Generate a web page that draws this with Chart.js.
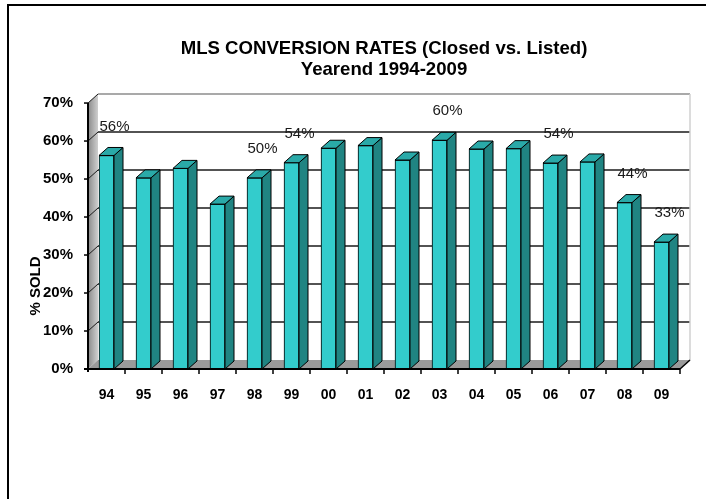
<!DOCTYPE html>
<html>
<head>
<meta charset="utf-8">
<title>MLS Conversion Rates</title>
<script src="https://cdn.jsdelivr.net/npm/chart.js@4.4.1/dist/chart.umd.min.js"></script>
<style>
  html, body { margin: 0; padding: 0; background: #fff; }
  #wrap { position: relative; width: 706px; height: 499px; overflow: hidden; }
  #frame { position: absolute; left: 7px; top: 4px; right: -4px; bottom: -4px;
           border-top: 2px solid #000; border-left: 2px solid #000; }
  #chart { position: absolute; left: 0; top: 0; }
</style>
</head>
<body>
<div id="wrap">
  <div id="frame"></div>
  <canvas id="chart" width="706" height="499"></canvas>
</div>
<script>
// Data
const years = ['94', '95', '96', '97', '98', '99', '00', '01', '02', '03', '04', '05', '06', '07', '08', '09'];
const soldRates = [56.2, 50.3, 52.8, 43.4, 50.3, 54.3, 58.1, 58.8, 55.0, 60.2, 57.9, 58.0, 54.2, 54.5, 43.8, 33.4];
const labelledYears = ['94', '98', '99', '03', '06', '08', '09'];
const yTicks = [0, 10, 20, 30, 40, 50, 60, 70];

const FONT = "'Liberation Sans', Arial, Helvetica, sans-serif";

// 3D look: depth of the walls and of each bar
const wall = { dx: 10, dy: -9 };
const block = { dx: 9, dy: -8 };

function poly(ctx, pts, fill, stroke) {
    ctx.beginPath();
    pts.forEach(([px, py], i) => i ? ctx.lineTo(px, py) : ctx.moveTo(px, py));
    ctx.closePath();
    if (fill) { ctx.fillStyle = fill; ctx.fill(); }
    if (stroke) { ctx.strokeStyle = stroke; ctx.lineWidth = 1; ctx.stroke(); }
}

function line(ctx, x1, y1, x2, y2, color, w) {
    ctx.beginPath();
    ctx.moveTo(x1, y1);
    ctx.lineTo(x2, y2);
    ctx.strokeStyle = color;
    ctx.lineWidth = w;
    ctx.stroke();
}

// Walls, floor and gridlines behind the bars
const room3d = {
    id: 'room3d',
    beforeDatasetsDraw(chart) {
        const { ctx, chartArea: a, scales: { y } } = chart;
        const L = a.left, R = a.right, T = a.top, B = a.bottom;
        ctx.save();

        // back wall
        ctx.fillStyle = '#fff';
        ctx.fillRect(L + wall.dx, T + wall.dy, R - L, B - T);

        // left side wall
        const g = ctx.createLinearGradient(L, 0, L + wall.dx, 0);
        g.addColorStop(0, '#8a8a8a');
        g.addColorStop(1, '#cfcfcf');
        poly(ctx, [[L, B], [L, T], [L + wall.dx, T + wall.dy], [L + wall.dx, B + wall.dy]], g);

        // floor
        poly(ctx, [[L, B], [R, B], [R + wall.dx, B + wall.dy], [L + wall.dx, B + wall.dy]], '#9a9a9a');

        // gridlines on the back wall and the side wall
        yTicks.forEach(v => {
            if (v === 0) return;
            const py = y.getPixelForValue(v);
            const color = v === yTicks[yTicks.length - 1] ? '#8c8c8c' : '#1a1a1a';
            line(ctx, L + wall.dx, py + wall.dy, R + wall.dx, py + wall.dy, color, 1.5);
            line(ctx, L, py, L + wall.dx, py + wall.dy, '#1a1a1a', 1);
        });

        // right edge of the back wall
        line(ctx, R + wall.dx, T + wall.dy, R + wall.dx, B + wall.dy, '#d0d0d0', 1.5);
        ctx.restore();
    },

    afterDatasetsDraw(chart) {
        const { ctx, chartArea: a, scales: { y } } = chart;
        const L = a.left, R = a.right, T = a.top, B = a.bottom;
        const meta = chart.getDatasetMeta(0);
        ctx.save();

        // side and top faces of the bars
        meta.data.forEach(bar => {
            const { x: cx, y: top, base, width } = bar.getProps(['x', 'y', 'base', 'width'], true);
            const l = cx - width / 2, r = cx + width / 2;
            poly(ctx, [[r, top], [r + block.dx, top + block.dy], [r + block.dx, base + block.dy], [r, base]], '#208482', '#000');
            poly(ctx, [[l, top], [l + block.dx, top + block.dy], [r + block.dx, top + block.dy], [r, top]], '#2aa9a8', '#000');
        });

        // axes
        line(ctx, L, T, L, B + 3, '#000', 2);
        line(ctx, L - 4, B, R, B, '#000', 2);
        line(ctx, R, B, R + wall.dx, B + wall.dy, '#000', 1.5);
        yTicks.forEach(v => {
            const py = y.getPixelForValue(v);
            line(ctx, L - 4, py, L, py, '#000', 1.5);
        });
        const step = (R - L) / years.length;
        for (let k = 1; k <= years.length; k++) {
            line(ctx, L + k * step, B, L + k * step, B + 5, '#000', 1.5);
        }

        // value labels
        ctx.font = '15px ' + FONT;
        ctx.fillStyle = '#1a1a1a';
        ctx.textAlign = 'center';
        ctx.textBaseline = 'middle';
        meta.data.forEach((bar, i) => {
            if (!labelledYears.includes(years[i])) return;
            ctx.fillText(Math.round(soldRates[i]) + '%', bar.x + 8, bar.y - 29);
        });

        // axis title
        ctx.save();
        ctx.translate(36, 286);
        ctx.rotate(-Math.PI / 2);
        ctx.font = 'bold 15px ' + FONT;
        ctx.fillStyle = '#000';
        ctx.fillText('% SOLD', 0, 0);
        ctx.restore();

        ctx.restore();
    }
};

new Chart(document.getElementById('chart'), {
    type: 'bar',
    data: {
        labels: years,
        datasets: [{
            label: '% SOLD',
            data: soldRates,
            backgroundColor: '#33cccc',
            borderColor: '#000',
            borderWidth: 1,
            barThickness: 15
        }]
    },
    options: {
        responsive: false,
        animation: false,
        layout: { padding: { left: 0, right: 26, top: 0, bottom: 0 } },
        plugins: {
            legend: { display: false },
            tooltip: { enabled: false },
            title: {
                display: true,
                fullSize: false,
                text: ['MLS CONVERSION RATES (Closed vs. Listed)', 'Yearend 1994-2009'],
                color: '#000',
                font: { family: FONT, size: 18.6, weight: 'bold', lineHeight: 1.13 },
                padding: { top: 38, bottom: 23 }
            }
        },
        scales: {
            x: {
                grid: { display: false, drawTicks: false, tickLength: 0 },
                border: { display: false },
                ticks: { color: '#000', padding: 18, font: { family: FONT, size: 14, weight: 'bold' } },
                afterFit: s => { s.height = 130; }
            },
            y: {
                min: 0,
                max: 70,
                grid: { display: false, drawTicks: false, tickLength: 0 },
                border: { display: false },
                ticks: {
                    stepSize: 10,
                    padding: 15,
                    color: '#000',
                    font: { family: FONT, size: 15, weight: 'bold' },
                    callback: v => v + '%'
                },
                afterFit: s => { s.width = 88; }
            }
        }
    },
    plugins: [room3d]
});
</script>
</body>
</html>
